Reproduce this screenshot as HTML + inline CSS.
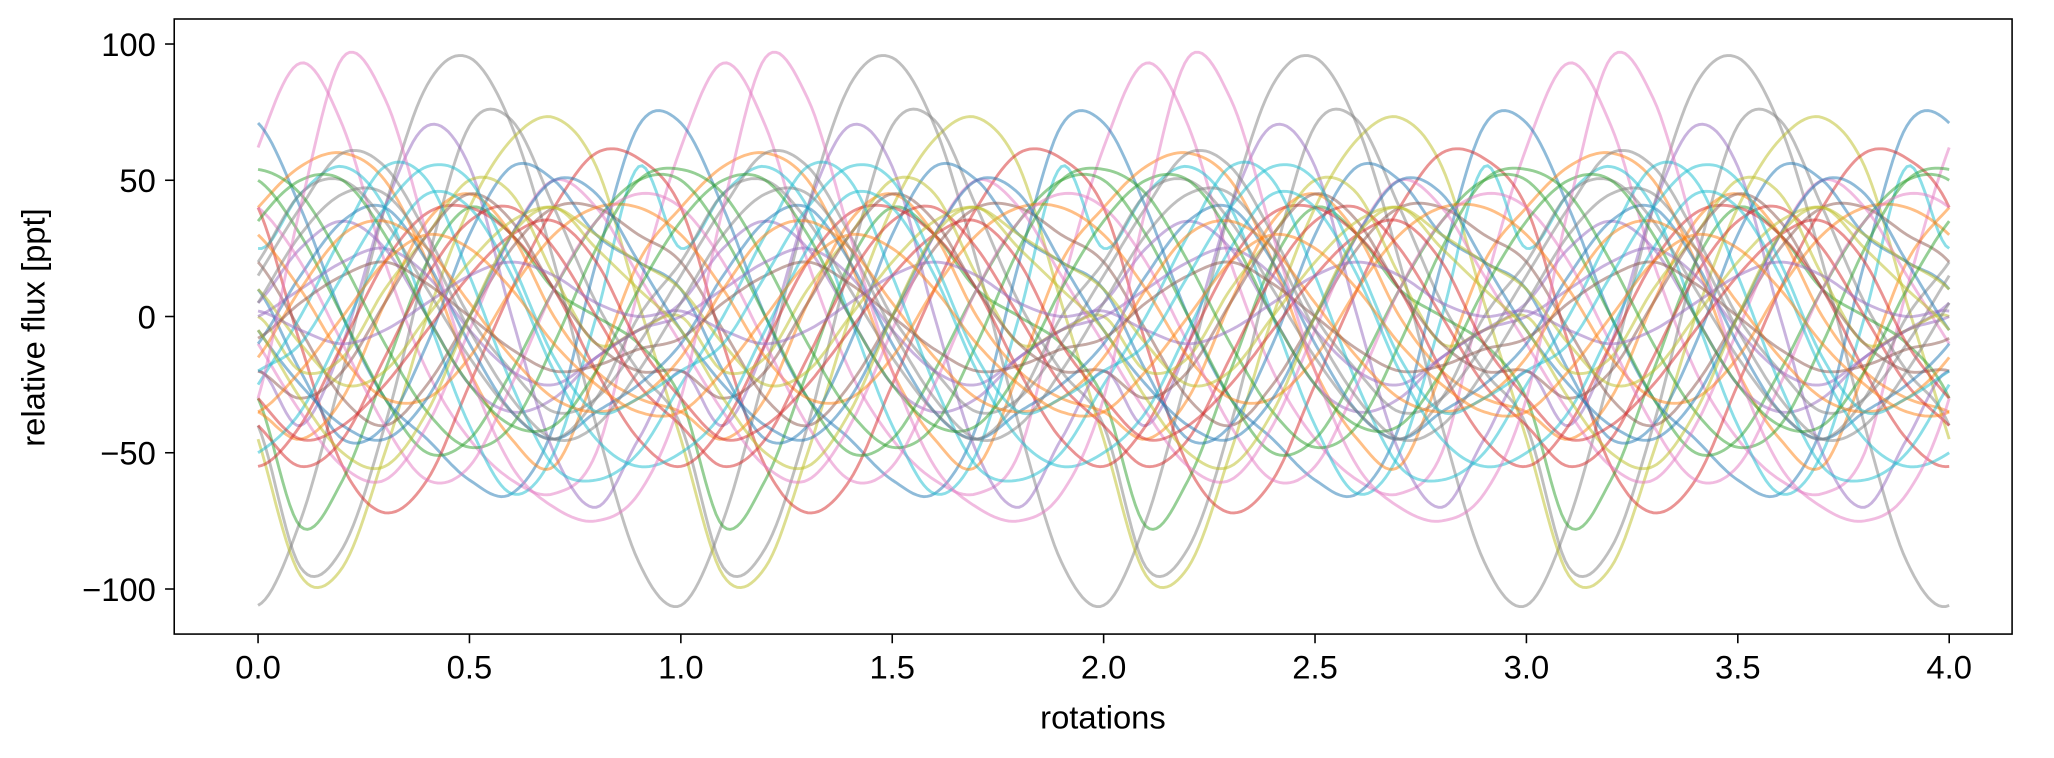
<!DOCTYPE html>
<html><head><meta charset="utf-8">
<style>
html,body{margin:0;padding:0;background:#fff;}
svg{display:block;font-family:"Liberation Sans",sans-serif;}
</style></head>
<body>
<svg id="chart" width="2054" height="758" viewBox="0 0 1568 578.6" preserveAspectRatio="none">
<rect x="0" y="0" width="1568" height="578.6" fill="#fff"/>
<g id="series"></g>
<rect x="133" y="14.5" width="1403" height="469.5" fill="none" stroke="#000" stroke-width="1.2"/>
<g id="xticks"></g>
<g id="yticks"></g>
<text x="842" y="556" font-size="25" text-anchor="middle" fill="#000">rotations</text>
<text transform="translate(34,250) rotate(-90)" font-size="25" text-anchor="middle" fill="#000">relative flux [ppt]</text>
</svg>
<script>
// tick data
const xTicks = [0, 0.5, 1, 1.5, 2, 2.5, 3, 3.5, 4];
const xTickLabels = ["0.0","0.5","1.0","1.5","2.0","2.5","3.0","3.5","4.0"];
const yTicks = [-100, -50, 0, 50, 100];
const yTickLabels = ["\u2212100","\u221250","0","50","100"];
const rotations = 4;
// series: one rotation sampled at phases 0, 0.1, ..., 0.9 (ppt)
const seriesColors = ["#7f7f7f","#e377c2","#bcbd22","#7f7f7f","#1f77b4","#d62728","#9467bd","#2ca02c","#17becf","#ff7f0e",
 "#1f77b4","#ff7f0e","#2ca02c","#d62728","#9467bd","#8c564b","#e377c2","#7f7f7f","#bcbd22","#17becf",
 "#1f77b4","#ff7f0e","#2ca02c","#d62728","#9467bd","#8c564b","#e377c2","#7f7f7f","#bcbd22","#17becf",
 "#1f77b4","#ff7f0e","#2ca02c","#d62728","#9467bd","#8c564b","#17becf","#7f7f7f","#bcbd22","#ff7f0e","#e377c2"];
const seriesValues = [
 [-106,-75,-20,40,85,95,70,20,-40,-90],
 [62,93,70,20,-20,-45,-60,-65,-50,10],
 [-45,-95,-92,-50,0,40,65,73,55,5],
 [-40,-92,-85,-40,20,70,72,40,5,-20],
 [71,40,0,-30,-45,-60,-65,-40,20,70],
 [40,-10,-55,-72,-60,-25,10,40,60,58],
 [-20,-40,-10,40,70,55,0,-50,-70,-45],
 [-30,-77,-60,-20,20,40,30,10,0,-10],
 [25,45,55,40,0,-40,-65,-50,0,55],
 [40,55,60,50,20,-20,-45,-55,-20,20],
 [10,-20,-45,-40,-10,30,55,50,30,20],
 [-35,-45,-30,5,35,45,30,0,-20,-30],
 [50,30,0,-30,-50,-45,-20,10,35,50],
 [-55,-40,-10,20,38,40,30,10,-20,-45],
 [5,25,35,25,0,-25,-35,-30,-15,-5],
 [20,-5,-30,-40,-25,0,25,40,40,30],
 [-10,-35,-55,-60,-40,-5,30,50,40,15],
 [15,40,60,55,30,0,-20,-35,-30,-10],
 [0,-20,-15,10,30,50,45,15,-10,-5],
 [-25,0,30,55,50,15,-25,-55,-60,-50],
 [-10,15,35,40,20,-10,-35,-45,-35,-25],
 [30,10,-15,-30,-30,-15,10,30,40,40],
 [54,45,20,-10,-35,-48,-40,-10,25,50],
 [-40,-55,-45,-15,15,35,40,25,0,-25],
 [0,10,20,25,15,-5,-20,-25,-15,-5],
 [-20,-30,-20,5,30,45,35,10,-10,-20],
 [40,20,-10,-40,-60,-55,-25,10,35,45],
 [20,45,50,35,10,-15,-35,-45,-30,0],
 [10,-10,-25,-20,0,20,35,40,30,20],
 [-50,-35,-5,25,45,40,15,-20,-45,-55],
 [-5,-25,-40,-45,-30,0,30,50,45,20],
 [-15,10,30,35,25,5,-15,-30,-35,-30],
 [35,50,50,30,0,-25,-40,-40,-20,10],
 [-30,-45,-40,-25,-5,15,30,35,20,-10],
 [2,-5,-10,-5,5,15,20,15,5,0],
 [-8,5,15,20,12,0,-12,-20,-18,-12],
 [-20,-10,15,40,55,50,20,-15,-35,-30],
 [5,30,45,45,25,-5,-30,-45,-40,-20],
 [-5,-30,-50,-55,-35,0,30,40,25,10],
 [-35,-20,0,20,30,25,10,-10,-25,-35],
 [-30,40,95,80,30,-20,-55,-70,-75,-65]
];
const X0 = 197, XPU = 322.75, Y0 = 241.6, YPP = 2.08;
function xs(v){ return X0 + v*XPU; }
function ys(v){ return Y0 - v*YPP; }
const NS = "http://www.w3.org/2000/svg";
const gS = document.getElementById('series');
seriesValues.forEach((vals, si) => {
  const n = vals.length;
  const at = i => vals[((i % n) + n) % n];
  let d = "";
  const steps = 12;
  for (let k = 0; k <= rotations*n; k++) {
    for (let s = 0; s < (k === rotations*n ? 1 : steps); s++) {
      const t = s/steps;
      const p0 = at(k-1), p1 = at(k), p2 = at(k+1), p3 = at(k+2);
      const v = 0.5*((2*p1) + (-p0+p2)*t + (2*p0-5*p1+4*p2-p3)*t*t + (-p0+3*p1-3*p2+p3)*t*t*t);
      const x = xs((k + t)/n);
      d += (d ? "L" : "M") + x.toFixed(1) + "," + ys(v).toFixed(1);
    }
  }
  const path = document.createElementNS(NS, 'path');
  path.setAttribute('d', d);
  path.setAttribute('fill', 'none');
  path.setAttribute('stroke', seriesColors[si % seriesColors.length]);
  path.setAttribute('stroke-width', '2.2');
  path.setAttribute('stroke-opacity', '0.5');
  
  
  gS.appendChild(path);
});
const gx = document.getElementById('xticks');
xTicks.forEach((t, i) => {
  const x = xs(t);
  const l = document.createElementNS(NS, 'line');
  l.setAttribute('x1', x); l.setAttribute('x2', x);
  l.setAttribute('y1', 484); l.setAttribute('y2', 491);
  l.setAttribute('stroke', '#000'); l.setAttribute('stroke-width', '1.2');
  
  
  gx.appendChild(l);
  const tx = document.createElementNS(NS, 'text');
  tx.setAttribute('x', x); tx.setAttribute('y', 518);
  tx.setAttribute('font-size', '25'); tx.setAttribute('text-anchor', 'middle');
  tx.textContent = xTickLabels[i];
  
  
  gx.appendChild(tx);
});
const gy = document.getElementById('yticks');
yTicks.forEach((t, i) => {
  const y = ys(t);
  const l = document.createElementNS(NS, 'line');
  l.setAttribute('x1', 126); l.setAttribute('x2', 133);
  l.setAttribute('y1', y); l.setAttribute('y2', y);
  l.setAttribute('stroke', '#000'); l.setAttribute('stroke-width', '1.2');
  
  
  gy.appendChild(l);
  const tx = document.createElementNS(NS, 'text');
  tx.setAttribute('x', 119); tx.setAttribute('y', y + 9);
  tx.setAttribute('font-size', '25'); tx.setAttribute('text-anchor', 'end');
  tx.textContent = yTickLabels[i];
  
  
  gy.appendChild(tx);
});
</script>
</body></html>
